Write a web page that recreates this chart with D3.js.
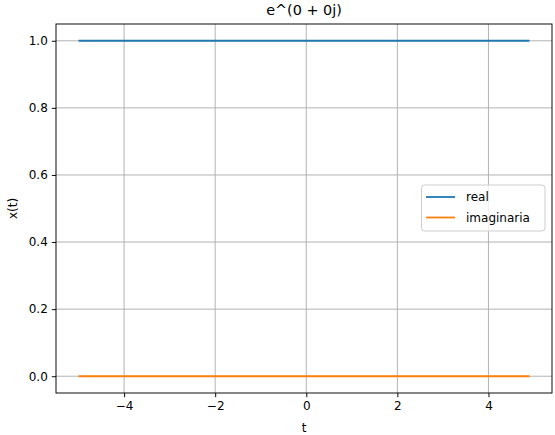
<!DOCTYPE html>
<html><head><meta charset="utf-8">
<script src="https://cdn.jsdelivr.net/npm/d3@7"></script>
<style>body{margin:0;background:#fff}svg{display:block}text{font-family:"DejaVu Sans",sans-serif;fill:#000}</style>
</head><body><svg id="c" width="555" height="435"></svg>
<script>
const t = d3.range(0, 100).map(i => +(-5 + i * 0.1).toFixed(1));
const realVals = t.map(() => 1.0);
const imagVals = t.map(() => 0.0);
const xTicks = [-4, -2, 0, 2, 4];
const yTicks = [0.0, 0.2, 0.4, 0.6, 0.8, 1.0];
const seriesNames = ["real", "imaginaria"];
const colors = ["#1f77b4", "#ff7f0e"];
const title = "e^(0 + 0j)";

const svg = d3.select("#c");
const L = 56, R = 552, T = 24, B = 393;
const x = d3.scaleLinear().domain([-5.495, 5.395]).range([L, R]);
const y = d3.scaleLinear().domain([-0.05, 1.05]).range([B, T]);

const grid = svg.append("g").attr("stroke", "#b0b0b0").attr("stroke-width", 0.96);
xTicks.forEach(v => grid.append("line").attr("x1", x(v)).attr("x2", x(v)).attr("y1", T).attr("y2", B));
yTicks.forEach(v => grid.append("line").attr("y1", y(v)).attr("y2", y(v)).attr("x1", L).attr("x2", R));

const line = d3.line().x((d, i) => x(t[i])).y(d => y(d));
[realVals, imagVals].forEach((s, k) => {
  svg.append("path").datum(s).attr("d", line).attr("fill", "none")
    .attr("stroke", colors[k]).attr("stroke-width", 1.8);
});

const xa = svg.append("g").attr("transform", `translate(0,${B})`)
  .call(d3.axisBottom(x).tickValues(xTicks).tickSize(4.2).tickPadding(4).tickFormat(d => d < 0 ? "\u2212" + Math.abs(d) : d));
const ya = svg.append("g").attr("transform", `translate(${L},0)`)
  .call(d3.axisLeft(y).tickValues(yTicks).tickSize(4.2).tickPadding(4).tickFormat(d3.format(".1f")));
[xa, ya].forEach(a => {
  a.select(".domain").remove();
  a.selectAll("text").attr("font-size", 12).attr("font-family", "DejaVu Sans").attr("fill", "#000");
  a.selectAll("line").attr("stroke", "#000").attr("stroke-width", 0.96);
});

svg.append("rect").attr("x", L).attr("y", T).attr("width", R - L).attr("height", B - T)
  .attr("fill", "none").attr("stroke", "#000").attr("stroke-width", 0.96);

svg.append("text").attr("x", (L + R) / 2).attr("y", 15).attr("text-anchor", "middle")
  .attr("font-size", 14.4).text(title);
svg.append("text").attr("x", (L + R) / 2).attr("y", 432).attr("text-anchor", "middle")
  .attr("font-size", 12).text("t");
svg.append("text").attr("transform", `translate(17,${(T + B) / 2}) rotate(-90)`).attr("text-anchor", "middle")
  .attr("font-size", 12).text("x(t)");

const lg = svg.append("g");
lg.append("rect").attr("x", 421.5).attr("y", 185).attr("width", 123.5).attr("height", 46).attr("rx", 3)
  .attr("fill", "#fff").attr("fill-opacity", 0.8).attr("stroke", "#cccccc").attr("stroke-width", 0.96);
seriesNames.forEach((n, k) => {
  const yy = 197 + k * 20.5;
  lg.append("line").attr("x1", 426).attr("x2", 455).attr("y1", yy).attr("y2", yy)
    .attr("stroke", colors[k]).attr("stroke-width", 1.8);
  lg.append("text").attr("x", 466).attr("y", yy + 4.3).attr("font-size", 12).text(n);
});
</script></body></html>
